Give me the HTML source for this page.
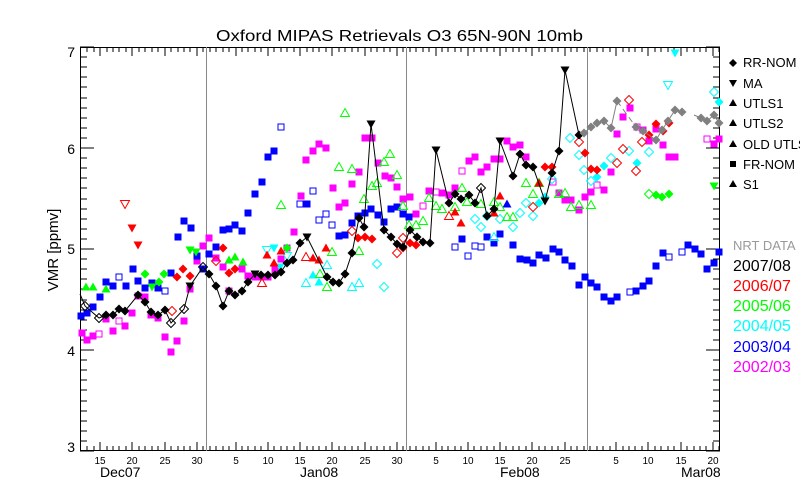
<!DOCTYPE html>
<html><head><meta charset="utf-8"><style>
html,body{margin:0;padding:0;background:#fff;}
svg{display:block;font-family:"Liberation Sans",sans-serif;}
</style></head><body>
<svg width="800" height="500" viewBox="0 0 800 500" xmlns="http://www.w3.org/2000/svg">
<defs>
<path id="D" d="M0,-4.5L4.5,0L0,4.5L-4.5,0Z"/>
<path id="S" d="M-3.5,-3.5h7v7h-7Z"/>
<path id="Q" d="M-3,-3h6v6h-6Z"/>
<path id="T" d="M0,-4.5L4.5,3.5L-4.5,3.5Z"/>
<path id="V" d="M-4.5,-3.5L4.5,-3.5L0,4.5Z"/>
</defs>
<rect width="800" height="500" fill="#fff"/>
<text x="216" y="41" font-size="16" textLength="367" lengthAdjust="spacingAndGlyphs" fill="#000">Oxford MIPAS Retrievals O3 65N-90N 10mb</text>
<g shape-rendering="crispEdges" stroke="#000" stroke-width="1" fill="none">
<rect x="80.5" y="47.5" width="639" height="403"/>
<path d="M80 451h14M80 441h7M80 431h7M80 421h7M80 411h7M80 401h7M80 390h7M80 380h7M80 370h7M80 360h7M80 350h14M80 340h7M80 330h7M80 320h7M80 310h7M80 300h7M80 289h7M80 279h7M80 269h7M80 259h7M80 249h14M80 239h7M80 229h7M80 219h7M80 209h7M80 199h7M80 188h7M80 178h7M80 168h7M80 158h7M80 148h14M80 138h7M80 128h7M80 118h7M80 108h7M80 98h7M80 87h7M80 77h7M80 67h7M80 57h7M80 47h14"/>
<path d="M720 451h-14M720 441h-7M720 431h-7M720 421h-7M720 411h-7M720 401h-7M720 390h-7M720 380h-7M720 370h-7M720 360h-7M720 350h-14M720 340h-7M720 330h-7M720 320h-7M720 310h-7M720 300h-7M720 289h-7M720 279h-7M720 269h-7M720 259h-7M720 249h-14M720 239h-7M720 229h-7M720 219h-7M720 209h-7M720 199h-7M720 188h-7M720 178h-7M720 168h-7M720 158h-7M720 148h-14M720 138h-7M720 128h-7M720 118h-7M720 108h-7M720 98h-7M720 87h-7M720 77h-7M720 67h-7M720 57h-7M720 47h-14"/>
<path d="M87 451v-5M94 451v-5M100 451v-9M107 451v-5M113 451v-5M119 451v-5M126 451v-5M132 451v-9M139 451v-5M145 451v-5M152 451v-5M158 451v-5M165 451v-9M171 451v-5M178 451v-5M184 451v-5M190 451v-5M197 451v-9M203 451v-5M210 451v-5M216 451v-5M223 451v-5M229 451v-5M236 451v-9M242 451v-5M248 451v-5M255 451v-5M261 451v-5M268 451v-9M274 451v-5M281 451v-5M287 451v-5M294 451v-5M300 451v-9M307 451v-5M313 451v-5M319 451v-5M326 451v-5M332 451v-9M339 451v-5M345 451v-5M352 451v-5M358 451v-5M365 451v-9M371 451v-5M377 451v-5M384 451v-5M390 451v-5M397 451v-9M403 451v-5M410 451v-5M416 451v-5M423 451v-5M429 451v-5M436 451v-9M442 451v-5M448 451v-5M455 451v-5M461 451v-5M468 451v-9M474 451v-5M481 451v-5M487 451v-5M494 451v-5M500 451v-9M506 451v-5M513 451v-5M519 451v-5M526 451v-5M532 451v-9M539 451v-5M545 451v-5M552 451v-5M558 451v-5M565 451v-9M571 451v-5M577 451v-5M584 451v-5M590 451v-5M597 451v-5M603 451v-5M610 451v-5M616 451v-9M623 451v-5M629 451v-5M635 451v-5M642 451v-5M648 451v-9M655 451v-5M661 451v-5M668 451v-5M674 451v-5M681 451v-9M687 451v-5M694 451v-5M700 451v-5M706 451v-5M713 451v-9M719 451v-5"/>
<path d="M87 47v5M94 47v5M100 47v9M107 47v5M113 47v5M119 47v5M126 47v5M132 47v9M139 47v5M145 47v5M152 47v5M158 47v5M165 47v9M171 47v5M178 47v5M184 47v5M190 47v5M197 47v9M203 47v5M210 47v5M216 47v5M223 47v5M229 47v5M236 47v9M242 47v5M248 47v5M255 47v5M261 47v5M268 47v9M274 47v5M281 47v5M287 47v5M294 47v5M300 47v9M307 47v5M313 47v5M319 47v5M326 47v5M332 47v9M339 47v5M345 47v5M352 47v5M358 47v5M365 47v9M371 47v5M377 47v5M384 47v5M390 47v5M397 47v9M403 47v5M410 47v5M416 47v5M423 47v5M429 47v5M436 47v9M442 47v5M448 47v5M455 47v5M461 47v5M468 47v9M474 47v5M481 47v5M487 47v5M494 47v5M500 47v9M506 47v5M513 47v5M519 47v5M526 47v5M532 47v9M539 47v5M545 47v5M552 47v5M558 47v5M565 47v9M571 47v5M577 47v5M584 47v5M590 47v5M597 47v5M603 47v5M610 47v5M616 47v9M623 47v5M629 47v5M635 47v5M642 47v5M648 47v9M655 47v5M661 47v5M668 47v5M674 47v5M681 47v9M687 47v5M694 47v5M700 47v5M706 47v5M713 47v9M719 47v5"/>
</g>
<g stroke="#888" stroke-width="1" shape-rendering="crispEdges">
<line x1="206.5" y1="47" x2="206.5" y2="451"/>
<line x1="406.5" y1="47" x2="406.5" y2="451"/>
<line x1="587.5" y1="47" x2="587.5" y2="451"/>
</g>
<g font-size="14" text-anchor="end" fill="#000">
<text x="75" y="57">7</text><text x="75" y="154">6</text><text x="75" y="254">5</text><text x="75" y="356">4</text><text x="75" y="452">3</text>
</g>
<text transform="translate(58,250) rotate(-90)" font-size="15" text-anchor="middle" fill="#000">VMR [ppmv]</text>
<g font-size="10" text-anchor="middle" fill="#000">
<text x="100" y="464">15</text><text x="132" y="464">20</text><text x="165" y="464">25</text><text x="197" y="464">30</text>
<text x="236" y="464">5</text><text x="268" y="464">10</text><text x="300" y="464">15</text><text x="332" y="464">20</text><text x="365" y="464">25</text><text x="397" y="464">30</text>
<text x="436" y="464">5</text><text x="468" y="464">10</text><text x="500" y="464">15</text><text x="532" y="464">20</text><text x="565" y="464">25</text>
<text x="616" y="464">5</text><text x="648" y="464">10</text><text x="681" y="464">15</text><text x="713" y="464">20</text>
</g>
<g font-size="14" fill="#000">
<text x="100" y="477">Dec07</text><text x="300" y="477">Jan08</text><text x="500" y="477">Feb08</text><text x="681" y="477">Mar08</text>
</g>

<!-- magenta 2002/03 -->
<g fill="#f0f">
<use href="#S" x="82" y="333"/><use href="#S" x="87" y="340"/><use href="#S" x="93" y="336"/><use href="#S" x="106" y="319"/><use href="#S" x="113" y="331"/><use href="#S" x="125" y="326"/><use href="#S" x="132" y="313"/><use href="#S" x="138" y="296"/><use href="#S" x="145" y="297"/><use href="#S" x="151" y="315"/><use href="#S" x="158" y="318"/><use href="#S" x="165" y="337"/><use href="#S" x="171" y="352"/><use href="#S" x="177" y="341"/><use href="#S" x="184" y="321"/><use href="#S" x="190" y="289"/><use href="#S" x="197" y="261"/><use href="#S" x="203" y="246"/><use href="#S" x="209" y="238"/><use href="#S" x="216" y="258"/><use href="#S" x="223" y="267"/><use href="#S" x="229" y="291"/><use href="#S" x="242" y="269"/><use href="#S" x="248" y="276"/><use href="#S" x="255" y="277"/><use href="#S" x="261" y="277"/><use href="#S" x="268" y="277"/><use href="#S" x="275" y="270"/><use href="#S" x="281" y="259"/><use href="#S" x="287" y="248"/><use href="#S" x="294" y="232"/><use href="#S" x="301" y="196"/><use href="#S" x="306" y="160"/><use href="#S" x="313" y="151"/><use href="#S" x="319" y="144"/><use href="#S" x="326" y="148"/><use href="#S" x="333" y="188"/><use href="#S" x="339" y="207"/><use href="#S" x="345" y="203"/><use href="#S" x="352" y="184"/><use href="#S" x="359" y="172"/><use href="#S" x="365" y="138"/><use href="#S" x="372" y="138"/><use href="#S" x="378" y="163"/><use href="#S" x="385" y="176"/><use href="#S" x="391" y="178"/><use href="#S" x="397" y="187"/><use href="#S" x="403" y="199"/><use href="#S" x="410" y="197"/><use href="#S" x="416" y="214"/><use href="#S" x="429" y="191"/><use href="#S" x="442" y="193"/><use href="#S" x="449" y="195"/><use href="#S" x="455" y="188"/><use href="#S" x="469" y="161"/><use href="#S" x="475" y="157"/><use href="#S" x="481" y="172"/><use href="#S" x="487" y="167"/><use href="#S" x="494" y="159"/><use href="#S" x="500" y="159"/><use href="#S" x="507" y="141"/><use href="#S" x="513" y="147"/><use href="#S" x="520" y="145"/><use href="#S" x="526" y="157"/><use href="#S" x="559" y="193"/><use href="#S" x="565" y="200"/><use href="#S" x="571" y="200"/><use href="#S" x="579" y="210"/><use href="#S" x="585" y="197"/><use href="#S" x="591" y="192"/><use href="#S" x="604" y="190"/><use href="#S" x="611" y="172"/><use href="#S" x="617" y="134"/><use href="#S" x="623" y="117"/><use href="#S" x="630" y="108"/><use href="#S" x="643" y="130"/><use href="#S" x="649" y="141"/><use href="#S" x="656" y="129"/><use href="#S" x="663" y="145"/><use href="#S" x="669" y="157"/><use href="#S" x="675" y="157"/><use href="#S" x="714" y="144"/><use href="#S" x="719" y="139"/>
</g>
<g fill="none" stroke="#f0f">
<use href="#Q" x="99" y="334"/><use href="#Q" x="119" y="321"/><use href="#Q" x="423" y="206"/><use href="#Q" x="436" y="192"/><use href="#Q" x="462" y="171"/><use href="#Q" x="553" y="182"/><use href="#Q" x="597" y="185"/><use href="#Q" x="637" y="127"/><use href="#Q" x="707" y="139"/>
</g>

<!-- blue 2003/04 -->
<g fill="#00f">
<use href="#S" x="81" y="316"/><use href="#S" x="87" y="313"/><use href="#S" x="93" y="307"/><use href="#S" x="100" y="297"/><use href="#S" x="106" y="282"/><use href="#S" x="113" y="286"/><use href="#S" x="126" y="286"/><use href="#S" x="133" y="269"/><use href="#S" x="138" y="281"/><use href="#S" x="145" y="288"/><use href="#S" x="152" y="283"/><use href="#S" x="158" y="288"/><use href="#S" x="171" y="273"/><use href="#S" x="178" y="237"/><use href="#S" x="184" y="221"/><use href="#S" x="191" y="228"/><use href="#S" x="197" y="256"/><use href="#S" x="203" y="269"/><use href="#S" x="209" y="254"/><use href="#S" x="216" y="247"/><use href="#S" x="223" y="230"/><use href="#S" x="229" y="229"/><use href="#S" x="235" y="225"/><use href="#S" x="242" y="231"/><use href="#S" x="248" y="213"/><use href="#S" x="255" y="194"/><use href="#S" x="262" y="182"/><use href="#S" x="268" y="157"/><use href="#S" x="274" y="151"/><use href="#S" x="307" y="204"/><use href="#S" x="339" y="236"/><use href="#S" x="345" y="235"/><use href="#S" x="352" y="223"/><use href="#S" x="358" y="216"/><use href="#S" x="365" y="213"/><use href="#S" x="371" y="209"/><use href="#S" x="378" y="215"/><use href="#S" x="384" y="222"/><use href="#S" x="391" y="209"/><use href="#S" x="397" y="207"/><use href="#S" x="403" y="214"/><use href="#S" x="409" y="217"/><use href="#S" x="462" y="239"/><use href="#S" x="487" y="237"/><use href="#S" x="494" y="243"/><use href="#S" x="500" y="234"/><use href="#S" x="513" y="245"/><use href="#S" x="520" y="259"/><use href="#S" x="527" y="260"/><use href="#S" x="533" y="263"/><use href="#S" x="539" y="255"/><use href="#S" x="546" y="258"/><use href="#S" x="553" y="249"/><use href="#S" x="559" y="252"/><use href="#S" x="565" y="260"/><use href="#S" x="572" y="266"/><use href="#S" x="579" y="285"/><use href="#S" x="585" y="277"/><use href="#S" x="591" y="283"/><use href="#S" x="597" y="287"/><use href="#S" x="604" y="297"/><use href="#S" x="611" y="301"/><use href="#S" x="617" y="297"/><use href="#S" x="636" y="291"/><use href="#S" x="643" y="286"/><use href="#S" x="649" y="281"/><use href="#S" x="656" y="266"/><use href="#S" x="663" y="253"/><use href="#S" x="688" y="245"/><use href="#S" x="695" y="249"/><use href="#S" x="701" y="254"/><use href="#S" x="707" y="269"/><use href="#S" x="714" y="263"/><use href="#S" x="719" y="252"/>
<use href="#T" x="507" y="204"/>
</g>
<g fill="none" stroke="#00f">
<use href="#Q" x="119" y="277"/><use href="#Q" x="165" y="291"/><use href="#Q" x="281" y="127"/><use href="#Q" x="300" y="204"/><use href="#Q" x="313" y="191"/><use href="#Q" x="319" y="220"/><use href="#Q" x="326" y="214"/><use href="#Q" x="332" y="225"/><use href="#Q" x="455" y="247"/><use href="#Q" x="468" y="256"/><use href="#Q" x="475" y="246"/><use href="#Q" x="481" y="247"/><use href="#Q" x="630" y="292"/><use href="#Q" x="669" y="257"/><use href="#Q" x="682" y="252"/>
</g>

<!-- cyan 2004/05 -->
<g fill="#0ff">
<use href="#V" x="274" y="248"/><use href="#V" x="280" y="267"/><use href="#V" x="675" y="53"/>
<use href="#T" x="313" y="275"/><use href="#T" x="319" y="282"/>
<use href="#D" x="539" y="203"/><use href="#D" x="545" y="197"/><use href="#D" x="597" y="177"/><use href="#D" x="604" y="166"/><use href="#D" x="637" y="163"/><use href="#D" x="719" y="102"/>
</g>
<g fill="none" stroke="#0ff">
<use href="#V" x="267" y="250"/><use href="#V" x="287" y="256"/><use href="#V" x="668" y="85"/>
<use href="#T" x="306" y="283"/><use href="#T" x="327" y="265"/><use href="#T" x="352" y="287"/><use href="#T" x="359" y="283"/><use href="#T" x="494" y="237"/>
<use href="#D" x="377" y="264"/><use href="#D" x="384" y="287"/><use href="#D" x="475" y="219"/><use href="#D" x="481" y="227"/><use href="#D" x="487" y="216"/><use href="#D" x="500" y="219"/><use href="#D" x="513" y="227"/><use href="#D" x="520" y="213"/><use href="#D" x="526" y="203"/><use href="#D" x="533" y="216"/><use href="#D" x="552" y="179"/><use href="#D" x="570" y="138"/><use href="#D" x="579" y="155"/><use href="#D" x="584" y="170"/><use href="#D" x="591" y="181"/><use href="#D" x="611" y="158"/><use href="#D" x="629" y="151"/><use href="#D" x="649" y="152"/><use href="#D" x="714" y="92"/>
</g>

<!-- green 2005/06 -->
<g fill="#0f0">
<use href="#T" x="86" y="287"/><use href="#T" x="93" y="287"/><use href="#T" x="106" y="289"/><use href="#T" x="229" y="260"/><use href="#T" x="235" y="257"/><use href="#T" x="243" y="262"/>
<use href="#D" x="145" y="274"/><use href="#D" x="159" y="282"/><use href="#D" x="164" y="274"/><use href="#D" x="287" y="248"/><use href="#D" x="656" y="195"/><use href="#D" x="662" y="197"/><use href="#D" x="669" y="194"/>
<use href="#V" x="152" y="287"/><use href="#V" x="190" y="250"/><use href="#V" x="196" y="252"/><use href="#V" x="714" y="186"/>
</g>
<g fill="none" stroke="#0f0">
<use href="#T" x="281" y="205"/><use href="#T" x="345" y="113"/><use href="#T" x="339" y="167"/><use href="#T" x="352" y="169"/><use href="#T" x="390" y="154"/><use href="#T" x="384" y="162"/><use href="#T" x="397" y="175"/><use href="#T" x="364" y="199"/><use href="#T" x="372" y="186"/><use href="#T" x="377" y="183"/><use href="#T" x="403" y="206"/><use href="#T" x="359" y="251"/><use href="#T" x="332" y="252"/><use href="#T" x="327" y="287"/><use href="#T" x="320" y="274"/><use href="#T" x="462" y="188"/><use href="#T" x="455" y="207"/><use href="#T" x="442" y="209"/><use href="#T" x="436" y="206"/><use href="#T" x="429" y="198"/><use href="#T" x="423" y="221"/><use href="#T" x="416" y="225"/><use href="#T" x="409" y="225"/><use href="#T" x="467" y="202"/><use href="#T" x="481" y="204"/><use href="#T" x="494" y="202"/><use href="#T" x="500" y="207"/><use href="#T" x="507" y="217"/><use href="#T" x="513" y="217"/><use href="#T" x="526" y="183"/><use href="#T" x="533" y="194"/><use href="#T" x="539" y="183"/><use href="#T" x="559" y="194"/><use href="#T" x="565" y="193"/><use href="#T" x="571" y="207"/><use href="#T" x="579" y="205"/><use href="#T" x="591" y="205"/>
<use href="#D" x="649" y="194"/>
</g>

<!-- red 2006/07 -->
<g fill="#f00">
<use href="#D" x="177" y="277"/><use href="#D" x="183" y="269"/><use href="#D" x="190" y="276"/><use href="#D" x="223" y="248"/><use href="#D" x="229" y="273"/><use href="#D" x="235" y="269"/><use href="#D" x="358" y="238"/><use href="#D" x="365" y="237"/><use href="#D" x="372" y="239"/><use href="#D" x="403" y="248"/><use href="#D" x="410" y="243"/><use href="#D" x="416" y="245"/><use href="#D" x="545" y="167"/><use href="#D" x="552" y="167"/><use href="#D" x="585" y="153"/><use href="#D" x="591" y="169"/><use href="#D" x="597" y="170"/><use href="#D" x="649" y="135"/><use href="#D" x="656" y="124"/><use href="#D" x="663" y="131"/><use href="#D" x="669" y="123"/>
<use href="#T" x="267" y="255"/><use href="#T" x="274" y="263"/><use href="#T" x="281" y="251"/><use href="#T" x="313" y="258"/><use href="#T" x="319" y="260"/><use href="#T" x="326" y="248"/><use href="#T" x="455" y="212"/><use href="#T" x="461" y="223"/><use href="#T" x="494" y="213"/><use href="#T" x="500" y="196"/><use href="#T" x="539" y="183"/>
<use href="#V" x="132" y="228"/><use href="#V" x="138" y="245"/>
</g>
<g fill="none" stroke="#f00">
<use href="#T" x="262" y="283"/><use href="#T" x="306" y="257"/><use href="#T" x="449" y="216"/>
<use href="#V" x="125" y="204"/>
<use href="#D" x="172" y="311"/><use href="#D" x="216" y="261"/><use href="#D" x="352" y="231"/><use href="#D" x="397" y="253"/><use href="#D" x="403" y="238"/><use href="#D" x="533" y="207"/><use href="#D" x="579" y="142"/><use href="#D" x="629" y="100"/><use href="#D" x="623" y="149"/><use href="#D" x="617" y="163"/><use href="#D" x="642" y="142"/><use href="#D" x="636" y="171"/>
</g>

<!-- black 2007/08 -->
<polyline fill="none" stroke="#000" stroke-width="1" points="80,294 85,306 99,318 106,315 113,315 119,309 125,311 138,295 145,302 151,312 158,315 165,310 171,323 184,309 190,286 203,267 209,274 216,286 223,306 229,291 235,295 242,291 248,282 255,274 261,275 268,275 275,275 281,272 287,263 293,260 300,243 307,237 327,277 333,282 339,283 345,274 352,253 359,218 364,227 371,124 384,230 391,237 397,244 403,247 410,230 417,237 423,242 430,243 436,150 449,203 455,194 461,199 469,195 475,203 481,188 487,216 494,209 500,141 513,176 520,154 526,165 533,167 545,201 552,173 559,151 565,70 579,135"/>
<g fill="#000">
<use href="#D" x="106" y="315"/><use href="#D" x="113" y="315"/><use href="#D" x="119" y="309"/><use href="#D" x="125" y="311"/><use href="#D" x="138" y="295"/><use href="#D" x="145" y="302"/><use href="#D" x="151" y="312"/><use href="#D" x="158" y="315"/><use href="#D" x="165" y="310"/><use href="#D" x="209" y="274"/><use href="#D" x="216" y="286"/><use href="#D" x="223" y="306"/><use href="#D" x="229" y="291"/><use href="#D" x="235" y="295"/><use href="#D" x="242" y="291"/><use href="#D" x="248" y="282"/><use href="#D" x="261" y="275"/><use href="#D" x="268" y="275"/><use href="#D" x="275" y="275"/><use href="#D" x="281" y="272"/><use href="#D" x="287" y="263"/><use href="#D" x="293" y="260"/><use href="#D" x="300" y="243"/><use href="#D" x="327" y="277"/><use href="#D" x="333" y="282"/><use href="#D" x="339" y="283"/><use href="#D" x="345" y="274"/><use href="#D" x="352" y="253"/><use href="#D" x="359" y="218"/><use href="#D" x="364" y="227"/><use href="#D" x="384" y="230"/><use href="#D" x="391" y="237"/><use href="#D" x="397" y="244"/><use href="#D" x="403" y="247"/><use href="#D" x="410" y="230"/><use href="#D" x="417" y="237"/><use href="#D" x="423" y="242"/><use href="#D" x="430" y="243"/><use href="#D" x="449" y="203"/><use href="#D" x="455" y="194"/><use href="#D" x="461" y="199"/><use href="#D" x="469" y="195"/><use href="#D" x="475" y="203"/><use href="#D" x="487" y="216"/><use href="#D" x="494" y="209"/><use href="#D" x="513" y="176"/><use href="#D" x="520" y="154"/><use href="#D" x="526" y="165"/><use href="#D" x="533" y="167"/><use href="#D" x="552" y="173"/><use href="#D" x="559" y="151"/><use href="#D" x="579" y="135"/>
<use href="#V" x="190" y="286"/><use href="#V" x="255" y="274"/><use href="#V" x="307" y="237"/><use href="#V" x="371" y="124"/><use href="#V" x="436" y="150"/><use href="#V" x="500" y="141"/><use href="#V" x="545" y="201"/><use href="#V" x="565" y="70"/>
</g>
<g fill="none" stroke="#000">
<use href="#D" x="85" y="306"/><use href="#D" x="99" y="318"/><use href="#D" x="171" y="323"/><use href="#D" x="184" y="309"/><use href="#D" x="203" y="267"/><use href="#D" x="481" y="188"/>
</g>

<!-- gray NRT -->
<polyline fill="none" stroke="#808080" stroke-width="1" points="584,133 591,127 597,123 604,121 611,128 617,101"/>
<polyline fill="none" stroke="#808080" stroke-width="1" stroke-dasharray="6,4" points="617,101 636,127"/>
<polyline fill="none" stroke="#808080" stroke-width="1" points="636,127 643,131 656,140 662,130 668,121 675,110 682,112"/>
<polyline fill="none" stroke="#808080" stroke-width="1" points="694,115 701,118 707,121 714,115 719,123"/>
<g fill="#808080">
<use href="#D" x="584" y="133"/><use href="#D" x="591" y="127"/><use href="#D" x="597" y="123"/><use href="#D" x="604" y="121"/><use href="#D" x="611" y="128"/><use href="#D" x="617" y="101"/><use href="#D" x="636" y="127"/><use href="#D" x="643" y="131"/><use href="#D" x="656" y="140"/><use href="#D" x="662" y="130"/><use href="#D" x="668" y="121"/><use href="#D" x="675" y="110"/><use href="#D" x="682" y="112"/><use href="#D" x="701" y="118"/><use href="#D" x="707" y="121"/><use href="#D" x="714" y="115"/><use href="#D" x="719" y="123"/>
</g>

<!-- legend -->
<g fill="#000">
<path d="M733,59L737,63L733,67L729,63Z"/>
<path d="M729,80L737,80L733,87Z"/>
<path d="M733,99L737,106L729,106Z"/>
<path d="M733,119L737,126L729,126Z"/>
<path d="M733,140L737,147L729,147Z"/>
<rect x="730" y="161" width="6" height="6"/>
<path d="M733,180L737,187L729,187Z"/>
</g>
<g font-size="13" fill="#000">
<text x="743" y="67">RR-NOM</text>
<text x="743" y="88">MA</text>
<text x="743" y="108">UTLS1</text>
<text x="743" y="128">UTLS2</text>
<text x="743" y="149">OLD UTLS</text>
<text x="743" y="169">FR-NOM</text>
<text x="743" y="189">S1</text>
</g>
<text x="733" y="250" font-size="13" fill="#999">NRT DATA</text>
<g font-size="16">
<text x="733" y="271" fill="#000">2007/08</text>
<text x="733" y="291" fill="#f00">2006/07</text>
<text x="733" y="311" fill="#0f0">2005/06</text>
<text x="733" y="331" fill="#0ff">2004/05</text>
<text x="733" y="352" fill="#00f">2003/04</text>
<text x="733" y="372" fill="#f0f">2002/03</text>
</g>
</svg>
</body></html>
